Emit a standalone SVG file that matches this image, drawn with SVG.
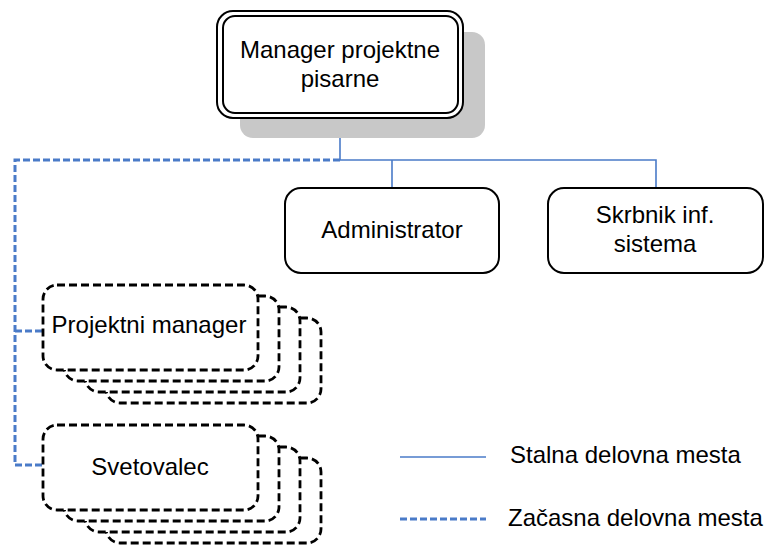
<svg xmlns="http://www.w3.org/2000/svg" width="776" height="545" viewBox="0 0 776 545">
  <style>
    text { font-family: "Liberation Sans", Arial, sans-serif; font-size: 24px; fill: #000; text-anchor: middle; }
    .box { fill: #fff; stroke: #000; stroke-width: 2; }
    .temp { fill: #fff; stroke: #000; stroke-width: 2.8; stroke-dasharray: 8 4; }
    .solid { fill: none; stroke: #4a7bc8; stroke-width: 1.6; }
    .dash { fill: none; stroke: #4a7bc8; stroke-width: 3; stroke-dasharray: 7 3; }
  </style>

  <!-- connectors -->
  <g id="connectors">
    <path class="solid" d="M340 117 V160 H656 V188 M392 160 V188"/>
    <path class="dash" d="M340 160 H15 V465 H43 M15 331 H43"/>
  </g>

  <!-- head of the office -->
  <g id="manager-pisarne">
    <rect x="240" y="32" width="245" height="106" rx="13" fill="#c8c8c8"/>
    <rect class="box" x="217" y="11" width="246" height="107" rx="16"/>
    <rect class="box" x="223" y="16" width="235" height="97" rx="12"/>
    <text x="340" y="58">Manager projektne</text>
    <text x="340" y="87">pisarne</text>
  </g>

  <g id="administrator">
    <rect class="box" x="285" y="188" width="214" height="85" rx="16"/>
    <text x="392" y="238">Administrator</text>
  </g>

  <g id="skrbnik">
    <rect class="box" x="548" y="188" width="215" height="85" rx="16"/>
    <text x="655" y="223">Skrbnik inf.</text>
    <text x="655" y="252">sistema</text>
  </g>

  <!-- stacked temporary positions -->
  <g id="projektni-manager">
    <rect class="temp" x="106" y="318" width="215" height="85" rx="14"/>
    <rect class="temp" x="85" y="307" width="215" height="85" rx="14"/>
    <rect class="temp" x="64" y="296" width="215" height="85" rx="14"/>
    <rect class="temp" x="43" y="285" width="215" height="85" rx="14"/>
    <text x="149" y="333">Projektni manager</text>
  </g>

  <g id="svetovalec">
    <rect class="temp" x="106" y="458" width="215" height="85" rx="14"/>
    <rect class="temp" x="85" y="447" width="215" height="85" rx="14"/>
    <rect class="temp" x="64" y="436" width="215" height="85" rx="14"/>
    <rect class="temp" x="43" y="425" width="215" height="85" rx="14"/>
    <text x="150" y="475">Svetovalec</text>
  </g>

  <!-- legend -->
  <g id="legend">
    <line class="solid" x1="400" y1="457" x2="486" y2="457"/>
    <text x="510" y="463" style="text-anchor:start">Stalna delovna mesta</text>
    <line class="dash" x1="400" y1="519" x2="486" y2="519"/>
    <text x="508" y="526" style="text-anchor:start">Začasna delovna mesta</text>
  </g>
</svg>
